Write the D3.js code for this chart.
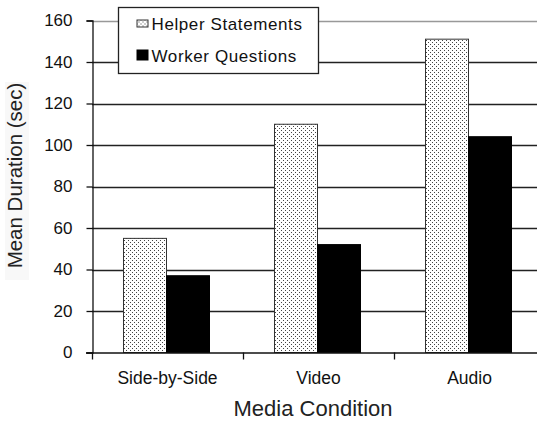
<!DOCTYPE html>
<html>
<head>
<meta charset="utf-8">
<script src="https://cdn.jsdelivr.net/npm/d3@7"></script>
<style>
  body { margin: 0; background: #fff; }
  svg { display: block; font-family: "Liberation Sans", Arial, sans-serif; }
</style>
</head>
<body>
<svg id="chart" width="537" height="421"></svg>
<script>
var categories = ['Side-by-Side', 'Video', 'Audio'];
var seriesNames = ['Helper Statements', 'Worker Questions'];
var helperValues = [55, 110, 151];
var workerValues = [37, 52, 104];
var yTicks = [0, 20, 40, 60, 80, 100, 120, 140, 160];

var svg = d3.select('#chart');
var m = { left: 92, top: 20.5, bottom: 352.5 };
var plotRight = 545;
var font = '"Liberation Sans", Arial, sans-serif';

var x = d3.scaleBand().domain(categories).range([m.left, plotRight]).paddingInner(0).paddingOuter(0);
var inner = d3.scaleBand().domain(seriesNames).range([31, x.bandwidth() - 34]).padding(0);
var y = d3.scaleLinear().domain([0, 160]).range([m.bottom, m.top]);

// dotted fill
var defs = svg.append('defs');
var pat = defs.append('pattern')
  .attr('id', 'dots')
  .attr('patternUnits', 'userSpaceOnUse')
  .attr('width', 4).attr('height', 4);
pat.append('rect').attr('width', 4).attr('height', 4).attr('fill', '#fff');
pat.append('rect').attr('x', 0).attr('y', 0).attr('width', 1).attr('height', 1).attr('fill', '#444');
pat.append('rect').attr('x', 2).attr('y', 2).attr('width', 1).attr('height', 1).attr('fill', '#444');

// gridlines
svg.append('g').selectAll('line')
  .data(yTicks.filter(function (d) { return d > 0; }))
  .enter().append('line')
  .attr('x1', m.left).attr('x2', 537)
  .attr('y1', function (d) { return Math.round(y(d)) + 0.5; })
  .attr('y2', function (d) { return Math.round(y(d)) + 0.5; })
  .attr('stroke', function (d) { return d === 160 ? '#999' : '#222'; })
  .attr('stroke-width', 1.3);

// y axis
var yAxis = d3.axisLeft(y).tickValues(yTicks).tickSize(6).tickPadding(14);
var gy = svg.append('g').attr('transform', 'translate(' + (m.left + 0.5) + ',0)').call(yAxis);
gy.select('.domain').attr('stroke', '#111').attr('stroke-width', 1.3);
gy.selectAll('.tick line').attr('stroke', '#111').attr('stroke-width', 1.3);
gy.selectAll('.tick text').attr('font-size', 17).attr('fill', '#111').attr('font-family', font);

// bars
var groups = svg.append('g').selectAll('g')
  .data(categories)
  .enter().append('g')
  .attr('transform', function (d) { return 'translate(' + x(d) + ',0)'; });

groups.append('rect')
  .attr('x', inner('Helper Statements') + 0.5)
  .attr('y', function (d, i) { return y(helperValues[i]); })
  .attr('width', inner.bandwidth())
  .attr('height', function (d, i) { return y(0) - y(helperValues[i]); })
  .attr('fill', 'url(#dots)')
  .attr('stroke', '#333').attr('stroke-width', 1);

groups.append('rect')
  .attr('x', inner('Worker Questions') + 0.5)
  .attr('y', function (d, i) { return y(workerValues[i]); })
  .attr('width', inner.bandwidth())
  .attr('height', function (d, i) { return y(0) - y(workerValues[i]); })
  .attr('fill', '#000')
  .attr('stroke', '#000').attr('stroke-width', 1);

// x axis
var xAxis = d3.axisBottom(x).tickSize(0).tickPadding(18);
var gx = svg.append('g').attr('transform', 'translate(0,' + m.bottom + ')').call(xAxis);
gx.select('.domain').attr('d', 'M' + (m.left - 6) + ',0.5H' + plotRight).attr('stroke', '#111').attr('stroke-width', 1.3);
gx.selectAll('.tick text').attr('font-size', 17.5).attr('fill', '#111').attr('font-family', font)
  .attr('dy', null).attr('y', 31);
// category separators
gx.append('g').selectAll('line')
  .data(categories)
  .enter().append('line')
  .attr('x1', function (d) { return x(d) + 0.5; })
  .attr('x2', function (d) { return x(d) + 0.5; })
  .attr('y1', 0).attr('y2', 7)
  .attr('stroke', '#111').attr('stroke-width', 1.3);

// axis titles
svg.append('text')
  .attr('x', 313).attr('y', 416)
  .attr('text-anchor', 'middle')
  .attr('font-size', 22).attr('fill', '#222')
  .text('Media Condition');

svg.append('rect')
  .attr('x', 5).attr('y', 82).attr('width', 24).attr('height', 198)
  .attr('fill', '#f8f8f8');
svg.append('text')
  .attr('transform', 'translate(22,175.5) rotate(-90)')
  .attr('text-anchor', 'middle')
  .attr('font-size', 20.5).attr('fill', '#222')
  .text('Mean Duration (sec)');

// legend
var leg = svg.append('g').attr('transform', 'translate(118.5,7.5)');
leg.append('rect').attr('width', 200).attr('height', 66)
  .attr('fill', '#fff').attr('stroke', '#222').attr('stroke-width', 1.3);
var items = leg.selectAll('g.item')
  .data(seriesNames)
  .enter().append('g').attr('class', 'item')
  .attr('transform', function (d, i) { return 'translate(0,' + (22 + i * 32) + ')'; });
items.append('rect')
  .attr('x', 18.5)
  .attr('y', function (d, i) { return i === 0 ? -9.5 : -11.5; })
  .attr('width', 11)
  .attr('height', function (d, i) { return i === 0 ? 7 : 10; })
  .attr('fill', function (d, i) { return i === 0 ? 'url(#dots)' : '#000'; })
  .attr('stroke', function (d, i) { return i === 0 ? '#333' : '#000'; })
  .attr('stroke-width', 1);
items.append('text')
  .attr('x', 33).attr('y', 0)
  .attr('font-size', 17).attr('letter-spacing', 0.6).attr('fill', '#111')
  .text(function (d) { return d; });
</script>
</body>
</html>
